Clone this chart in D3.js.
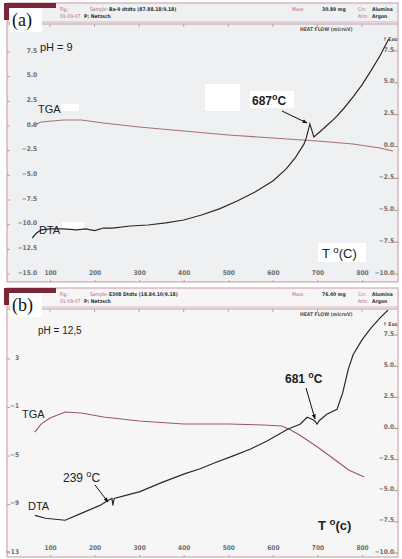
<!DOCTYPE html>
<html>
<head>
<meta charset="utf-8">
<script src="https://cdn.jsdelivr.net/npm/d3@7"></script>
<style>
  body { margin: 0; background: #fff; }
  svg { display: block; }
  .ax text { font-family: "DejaVu Sans Condensed", "DejaVu Sans", sans-serif; font-weight: bold; font-size: 6.5px; fill: #6e6e6e; }
  .ax path, .ax line { stroke: #c79aa4; }
  .hdr { font-family: "DejaVu Sans Condensed", sans-serif; font-size: 5px; }
  .lbl { font-family: Arial, "Liberation Sans", sans-serif; fill: #222; }
</style>
</head>
<body>
<svg id="chart" width="402" height="559"></svg>
<script>
// temperature ticks (deg C), shared by both panels
let tempTicks = [100, 200, 300, 400, 500, 600, 700, 800];

// panel (a) pH = 9
let leftTicksA = [7.5, 5.0, 2.5, 0.0, -2.5, -5.0, -7.5, -10.0, -12.5, -15.0];
let rightTicksA = [7.5, 5.0, 2.5, 0.0, -2.5, -5.0, -7.5, -10.0];
let tgaTempA = [60, 80, 130, 170, 220, 300, 400, 500, 600, 700, 780, 840, 870];
let tgaA = [-0.20, 0.20, 0.41, 0.41, 0.10, -0.30, -0.71, -1.11, -1.42, -1.72, -2.03, -2.43, -2.74];
let dtaTempA = [60, 70, 80, 100, 130, 160, 180, 200, 220, 240, 280, 320, 360, 400, 440, 480, 520, 560, 600, 630, 650, 670, 675, 683, 692, 705, 720, 740, 760, 780, 800, 820, 840, 860];
let dtaA = [-7.33, -6.94, -6.70, -6.62, -6.62, -6.70, -6.62, -6.75, -6.55, -6.55, -6.39, -6.31, -6.15, -5.92, -5.53, -5.05, -4.43, -3.72, -2.86, -1.91, -1.05, 0.05, 0.52, 1.62, 0.60, 0.99, 1.46, 2.09, 2.87, 3.74, 4.68, 5.78, 6.95, 8.29];

// panel (b) pH = 12,5
let leftTicksB = [3, -1, -5, -9, -13];
let rightTicksB = [7.5, 5.0, 2.5, 0.0, -2.5, -5.0, -7.5, -10.0];
let tgaTempB = [66, 80, 100, 134, 170, 220, 300, 400, 500, 580, 620, 640, 660, 700, 740, 770, 805];
let tgaB = [-3.19, -2.53, -2.03, -1.54, -1.62, -1.95, -2.28, -2.53, -2.53, -2.61, -2.69, -3.02, -3.43, -4.42, -5.49, -6.32, -6.90];
let dtaTempB = [66, 90, 134, 170, 212, 230, 239, 241, 244, 270, 302, 350, 403, 437, 470, 511, 550, 587, 634, 661, 677, 688, 695, 699, 705, 721, 744, 757, 769, 780, 800, 820, 840, 858];
let dtaB = [-7.14, -7.37, -7.53, -6.98, -6.34, -5.94, -5.78, -6.34, -5.78, -5.54, -5.23, -4.51, -3.79, -3.40, -2.92, -2.36, -1.81, -1.17, -0.21, 0.18, 0.74, 0.58, 0.42, 0.18, 0.50, 0.98, 1.38, 2.73, 4.56, 5.75, 6.95, 7.90, 8.70, 9.33];

let svg = d3.select('#chart');
let xScale = d3.scaleLinear().domain([100, 800]).range([50, 362]);

let drawPanel = function(p) {
  let g = svg.append('g');

  // plot background and frame
  g.append('rect').attr('x', 7).attr('y', p.top).attr('width', 391).attr('height', p.bottom - p.top)
    .attr('fill', p.bg).attr('stroke', '#c79aa4').attr('stroke-width', 1);
  g.append('line').attr('x1', 7).attr('x2', 398).attr('y1', p.top + 19).attr('y2', p.top + 19)
    .attr('stroke', '#d8b4bc');
  g.append('line').attr('x1', 7).attr('x2', 398).attr('y1', p.top + 21).attr('y2', p.top + 21)
    .attr('stroke', '#b9a0a6');
  g.selectAll('.ttick').data(tempTicks).enter().append('line')
    .attr('x1', d => xScale(d)).attr('x2', d => xScale(d))
    .attr('y1', p.top + 21).attr('y2', p.top + 24).attr('stroke', '#b9a0a6');

  // header of the instrument print
  g.append('rect').attr('x', 4).attr('y', p.top).attr('width', 52).attr('height', 5).attr('fill', '#7a2636');
  g.append('rect').attr('x', 4).attr('y', p.top).attr('width', 5).attr('height', 17).attr('fill', '#7a2636');
  let hdr = [
    [60, 8, 'Fig.:', '#c0607c', 'normal'], [60, 15, '01-09-07', '#c0607c', 'normal'],
    [84, 15, 'P: Netzsch', '#333', 'bold'], [90, 8, 'Sample:', '#c0607c', 'normal'],
    [109, 8, p.sample, '#333', 'bold'], [292, 8, 'Mass:', '#c0607c', 'normal'],
    [322, 8, p.mass, '#333', 'bold'], [358, 8, 'Crc:', '#c0607c', 'normal'],
    [372, 8, 'Alumina', '#333', 'bold'], [358, 15, 'Atm:', '#c0607c', 'normal'],
    [372, 15, 'Argon', '#333', 'bold']
  ];
  g.selectAll('.h').data(hdr).enter().append('text').attr('class', 'hdr')
    .attr('x', d => d[0]).attr('y', d => p.top + d[1]).attr('fill', d => d[3])
    .attr('font-weight', d => d[4]).text(d => d[2]);
  g.append('rect').attr('x', 10).attr('y', p.top + 5).attr('width', 32).attr('height', 24).attr('fill', '#fff');
  g.append('text').attr('x', 12).attr('y', p.top + 23).attr('font-family', '"Liberation Serif", serif')
    .attr('font-size', 18).attr('fill', '#111').text(p.name);

  g.append('text').attr('class', 'hdr').attr('x', 300).attr('y', p.top + 28)
    .attr('font-weight', 'bold').attr('font-size', 5.5).attr('fill', '#555').text('HEAT FLOW  (microV)');
  g.append('text').attr('class', 'hdr').attr('x', 383).attr('y', p.top + 38)
    .attr('font-weight', 'bold').attr('font-size', 6).attr('fill', '#555').text('\u2191 Exo');

  // axes
  let left = d3.scaleLinear().domain(p.leftDom).range(p.leftRange);
  let right = d3.scaleLinear().domain(p.rightDom).range(p.rightRange);

  g.append('g').attr('class', 'ax').attr('transform', 'translate(' + p.leftX + ',0)')
    .call(d3.axisLeft(left).tickValues(p.leftTicks).tickSize(0).tickPadding(0).tickFormat(p.leftFmt))
    .call(a => a.select('.domain').remove());
  g.selectAll('.lt').data(p.leftTicks).enter().append('line')
    .attr('x1', 7).attr('x2', 10).attr('y1', d => left(d) + 2).attr('y2', d => left(d) + 2)
    .attr('stroke', '#c79aa4');

  g.append('g').attr('class', 'ax').attr('transform', 'translate(394,0)')
    .call(d3.axisLeft(right).tickValues(p.rightTicks).tickSize(0).tickPadding(0).tickFormat(d3.format('.1f')))
    .call(a => a.select('.domain').remove());
  g.selectAll('.rt').data(p.rightTicks).enter().append('line')
    .attr('x1', 394).attr('x2', 398).attr('y1', d => right(d) + 2).attr('y2', d => right(d) + 2)
    .attr('stroke', '#999');

  g.append('g').attr('class', 'ax').attr('transform', 'translate(0,' + p.bottom + ')')
    .call(d3.axisTop(xScale).tickValues(tempTicks).tickSize(2).tickPadding(5).tickFormat(d3.format('d')))
    .call(a => a.select('.domain').remove());

  // white correction patches of the scan
  p.patches.forEach(function(r) {
    g.append('rect').attr('x', r[0]).attr('y', r[1]).attr('width', r[2]).attr('height', r[3]).attr('fill', '#fff');
  });

  // curves
  let tgaLine = d3.line().x(d => xScale(d[0])).y(d => left(d[1]));
  let dtaLine = d3.line().x(d => xScale(d[0])).y(d => right(d[1]));
  g.append('path').datum(d3.zip(p.tgaT, p.tga)).attr('d', tgaLine)
    .attr('fill', 'none').attr('stroke', p.tgaColor).attr('stroke-width', 1.1);
  g.append('path').datum(d3.zip(p.dtaT, p.dta)).attr('d', dtaLine)
    .attr('fill', 'none').attr('stroke', '#2a2a2a').attr('stroke-width', 1.2);

  // labels
  p.texts.forEach(function(t) {
    let tx = g.append('text').attr('class', 'lbl').attr('x', t.x).attr('y', t.y)
      .attr('font-size', t.size).attr('font-weight', t.bold ? 'bold' : 'normal');
    tx.append('tspan').text(t.a);
    if (t.sup) {
      tx.append('tspan').attr('dy', -5).attr('font-size', t.size * 0.75).text(t.sup);
      tx.append('tspan').attr('dy', 5).text(t.b);
    }
  });

  // arrows
  p.arrows.forEach(function(a) {
    g.append('line').attr('x1', a[0]).attr('y1', a[1]).attr('x2', a[2]).attr('y2', a[3])
      .attr('stroke', '#111').attr('stroke-width', 1).attr('marker-end', 'url(#head)');
  });
};

svg.append('defs').append('marker').attr('id', 'head').attr('viewBox', '0 0 10 10')
  .attr('refX', 9).attr('refY', 5).attr('markerWidth', 5).attr('markerHeight', 5).attr('orient', 'auto')
  .append('path').attr('d', 'M0,1 L10,5 L0,9 z').attr('fill', '#111');

drawPanel({
  name: '(a)', top: 3, bottom: 282, bg: '#eef0f2', leftX: 37,
  sample: 'Ba-9 dtdtx  (87.88.18/9.18)', mass: '30.89 mg',
  leftDom: [-15, 7.5], leftRange: [272, 50], leftTicks: leftTicksA, leftFmt: d3.format('.1f'),
  rightDom: [-10, 7.5], rightRange: [272, 49], rightTicks: rightTicksA,
  tgaT: tgaTempA, tga: tgaA, dtaT: dtaTempA, dta: dtaA, tgaColor: '#a8707a',
  patches: [[205, 84, 35, 27], [61, 104, 18, 7], [62, 222, 22, 7], [250, 91, 44, 17], [318, 243, 48, 19]],
  texts: [
    {x: 40, y: 51, size: 11, a: 'pH = 9'},
    {x: 38, y: 113, size: 11, a: 'TGA'},
    {x: 39, y: 234, size: 11, a: 'DTA'},
    {x: 252, y: 105, size: 12, bold: true, a: '687', sup: 'o', b: 'C'},
    {x: 322, y: 258, size: 13, a: 'T ', sup: 'o', b: '(C)'}
  ],
  arrows: [[282, 111, 307, 123]]
});

drawPanel({
  name: '(b)', top: 288, bottom: 557, bg: '#f6f6f6', leftX: 19,
  sample: 'E308 Dtdtx  (18.84.10/9.18)', mass: '76.40 mg',
  leftDom: [-13, 3], leftRange: [551, 357], leftTicks: leftTicksB, leftFmt: d3.format('d'),
  rightDom: [-10, 7.5], rightRange: [551, 333], rightTicks: rightTicksB,
  tgaT: tgaTempB, tga: tgaB, dtaT: dtaTempB, dta: dtaB, tgaColor: '#a0565e',
  patches: [],
  texts: [
    {x: 38, y: 334, size: 10, a: 'pH = 12,5'},
    {x: 22, y: 418, size: 11, a: 'TGA'},
    {x: 28, y: 510, size: 11, a: 'DTA'},
    {x: 63, y: 482, size: 12, a: '239 ', sup: 'o', b: 'C'},
    {x: 285, y: 383, size: 12, bold: true, a: '681 ', sup: 'o', b: 'C'},
    {x: 318, y: 530, size: 13, bold: true, a: 'T  ', sup: 'o', b: '(c)'}
  ],
  arrows: [[95, 485, 108, 502], [306, 388, 315, 419]]
});
</script>
</body>
</html>
